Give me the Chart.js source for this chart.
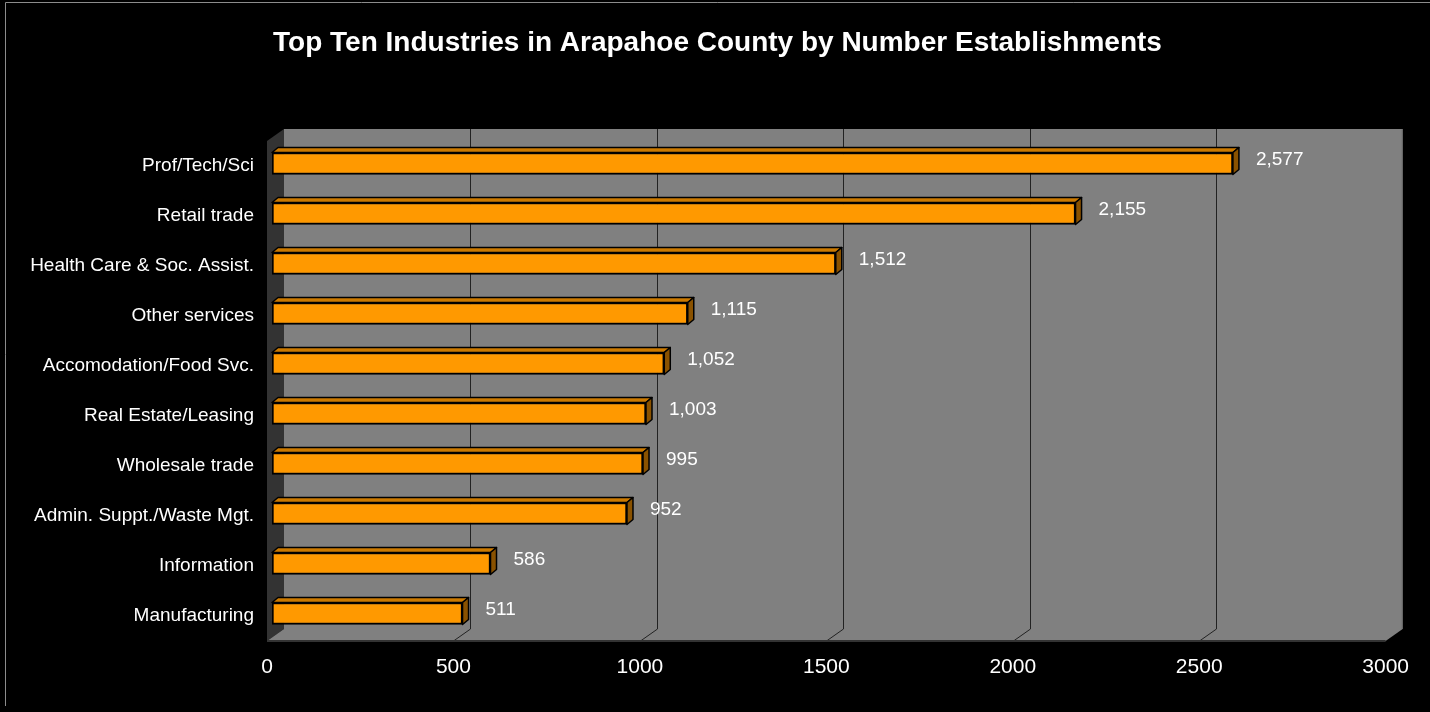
<!DOCTYPE html>
<html><head><meta charset="utf-8">
<script src="https://cdn.jsdelivr.net/npm/chart.js@4/dist/chart.umd.min.js"></script>
<style>html,body{margin:0;padding:0;background:#000;overflow:hidden}#wrap{width:1430px;height:712px}</style>
</head><body><div id="wrap"><canvas id="c" width="1430" height="712"></canvas></div>
<script>
const titleText = 'Top Ten Industries in Arapahoe County by Number Establishments';
const categories = ['Prof/Tech/Sci','Retail trade','Health Care & Soc. Assist.','Other services','Accomodation/Food Svc.','Real Estate/Leasing','Wholesale trade','Admin. Suppt./Waste Mgt.','Information','Manufacturing'];
const establishments = [2577,2155,1512,1115,1052,1003,995,952,586,511];
const xTickValues = [0,500,1000,1500,2000,2500,3000];

const FONT = '"Liberation Sans", Arial, sans-serif';
Chart.defaults.font.family = FONT;

const BACK = {dx: 12, dy: -9.5};
const FRONT = {dx: -5, dy: 2.5};
const BAR_D = {dx: 6, dy: 5};

function poly(ctx, pts){ ctx.beginPath(); ctx.moveTo(pts[0][0], pts[0][1]); for (let i=1;i<pts.length;i++) ctx.lineTo(pts[i][0], pts[i][1]); ctx.closePath(); }

const wallsPlugin = {
  id: 'walls',
  beforeDraw(chart){
    const ctx = chart.ctx, a = chart.chartArea, xs = chart.scales.x;
    const bL = a.left + BACK.dx, bR = a.right + BACK.dx, bT = a.top + BACK.dy, bB = a.bottom + BACK.dy;
    const fL = a.left + FRONT.dx, fR = a.right + FRONT.dx, fB = a.bottom + FRONT.dy;
    const dy = fB - bB;
    ctx.save();
    ctx.fillStyle = '#000'; ctx.fillRect(0, 0, chart.width, chart.height);
    ctx.strokeStyle = '#8c8c8c'; ctx.lineWidth = 1;
    ctx.beginPath(); ctx.moveTo(5.5, 706); ctx.lineTo(5.5, 2.5); ctx.lineTo(chart.width, 2.5); ctx.stroke();
    // title
    ctx.fillStyle = '#fff';
    ctx.font = 'bold 28px ' + FONT;
    ctx.textAlign = 'center'; ctx.textBaseline = 'middle';
    ctx.fillText(titleText, 717.5, 43);
    ctx.fillStyle = '#808080'; ctx.fillRect(bL, bT, bR - bL, bB - bT);
    ctx.fillStyle = '#333333'; poly(ctx, [[fL, bT + dy], [bL, bT], [bL, bB], [fL, fB]]); ctx.fill();
    ctx.fillStyle = '#808080'; poly(ctx, [[fL, fB], [bL, bB], [bR, bB], [fR, fB]]); ctx.fill();
    ctx.strokeStyle = '#707070'; ctx.lineWidth = 1;
    ctx.beginPath(); ctx.moveTo(bR - 0.5, bT); ctx.lineTo(bR - 0.5, bB); ctx.stroke();
    ctx.strokeStyle = '#222';
    xTickValues.forEach(v => {
      if (v === xTickValues[0] || v === xTickValues[xTickValues.length - 1]) return;
      const px = Math.round(xs.getPixelForValue(v)) + 0.5;
      ctx.beginPath();
      ctx.moveTo(px + BACK.dx, bT); ctx.lineTo(px + BACK.dx, bB); ctx.lineTo(px + FRONT.dx, fB);
      ctx.stroke();
    });
    ctx.strokeStyle = '#333'; ctx.lineWidth = 2;
    ctx.beginPath(); ctx.moveTo(fL, fB); ctx.lineTo(fR, fB); ctx.stroke();
    ctx.restore();
  },
  afterDatasetsDraw(chart){
    const ctx = chart.ctx;
    const meta = chart.getDatasetMeta(0);
    ctx.save();
    meta.data.forEach((el, i) => {
      const p = el.getProps(['x', 'y', 'base', 'height'], true);
      const top = p.y - p.height / 2, bot = p.y + p.height / 2;
      ctx.lineWidth = 1.5; ctx.strokeStyle = '#000'; ctx.lineJoin = 'round';
      ctx.fillStyle = '#CC7A00';
      poly(ctx, [[p.base, top], [p.base + BAR_D.dx, top - BAR_D.dy], [p.x + BAR_D.dx, top - BAR_D.dy], [p.x, top]]);
      ctx.fill(); ctx.stroke();
      ctx.fillStyle = '#8A5200';
      poly(ctx, [[p.x, top], [p.x + BAR_D.dx, top - BAR_D.dy], [p.x + BAR_D.dx, bot - BAR_D.dy], [p.x, bot]]);
      ctx.fill(); ctx.stroke();
      ctx.fillStyle = '#fff';
      ctx.font = '19px ' + FONT;
      ctx.textAlign = 'left'; ctx.textBaseline = 'middle';
      ctx.fillText(establishments[i].toLocaleString('en-US'), p.x + 23, p.y - 4);
    });
    ctx.restore();
  }
};

new Chart(document.getElementById('c'), {
  type: 'bar',
  data: {
    labels: categories,
    datasets: [{
      data: establishments,
      backgroundColor: '#FF9900',
      borderColor: '#000',
      borderWidth: 2,
      borderSkipped: false,
      barThickness: 22
    }]
  },
  options: {
    indexAxis: 'y',
    responsive: false,
    devicePixelRatio: 1,
    animation: false,
    layout: { padding: { left: 0, right: 35, top: 138.5, bottom: 0 } },
    plugins: {
      legend: { display: false },
      tooltip: { enabled: false },
      title: { display: false }
    },
    scales: {
      x: {
        type: 'linear', min: xTickValues[0], max: xTickValues[xTickValues.length - 1],
        afterBuildTicks(s){ s.ticks = xTickValues.map(v => ({ value: v })); },
        afterFit(s){ s.height = 73.5; },
        grid: { display: false, drawTicks: false },
        border: { display: false },
        ticks: { color: '#fff', font: { size: 21 }, padding: 16, labelOffset: -5, maxRotation: 0, callback: v => String(v) }
      },
      y: {
        afterFit(s){ s.width = 272; },
        grid: { display: false, drawTicks: false },
        border: { display: false },
        ticks: { color: '#fff', font: { size: 19 }, padding: 18, labelOffset: 2 }
      }
    }
  },
  plugins: [wallsPlugin]
});
</script>
</body></html>
